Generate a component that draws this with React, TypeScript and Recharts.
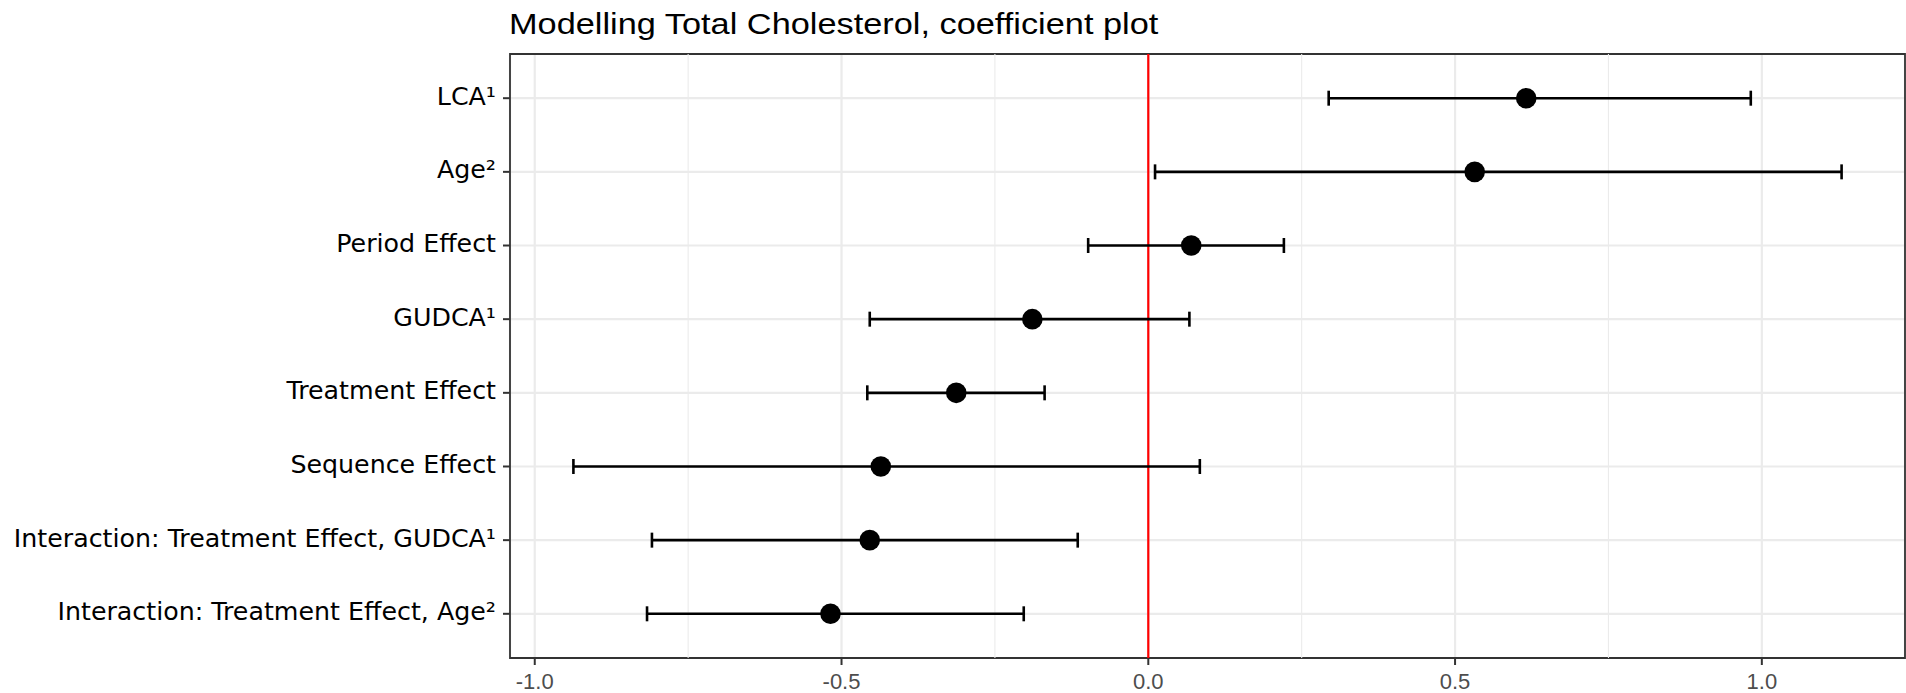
import {
  ScatterChart, Scatter, XAxis, YAxis, CartesianGrid, ErrorBar, ReferenceLine, ReferenceArea,
} from 'recharts'

/* ---------- data ---------- */

const TERMS = [
  'LCA¹',
  'Age²',
  'Period Effect',
  'GUDCA¹',
  'Treatment Effect',
  'Sequence Effect',
  'Interaction: Treatment Effect, GUDCA¹',
  'Interaction: Treatment Effect, Age²',
]
const ESTIMATE = [0.616, 0.532, 0.07, -0.189, -0.313, -0.436, -0.454, -0.518]
const LOWER = [0.294, 0.011, -0.098, -0.454, -0.458, -0.937, -0.809, -0.817]
const UPPER = [0.982, 1.13, 0.221, 0.067, -0.169, 0.084, -0.115, -0.203]

const X_TICKS = [-1, -0.5, 0, 0.5, 1]
const MINOR_X = [-0.75, -0.25, 0.25, 0.75]
const Y_TICKS = TERMS.map((_, i) => i)

/* ---------- scales (ggplot-style 5% expansion) ---------- */

const lo = Math.min(...LOWER)
const hi = Math.max(...UPPER)
const X_MIN = lo - (hi - lo) * 0.05
const X_MAX = hi + (hi - lo) * 0.05
const Y_MIN = -0.6
const Y_MAX = TERMS.length - 1 + 0.6

const rows = TERMS.map((term, i) => ({
  idx: i,
  term,
  est: ESTIMATE[i],
  err: [ESTIMATE[i] - LOWER[i], UPPER[i] - ESTIMATE[i]],
}))

/* ---------- ticks ---------- */

// eslint-disable-next-line @typescript-eslint/no-explicit-any
const TermTick = (props: any) => {
  const { x, y, payload } = props
  return (
    <text
      x={x}
      y={y}
      dy={6.5}
      textAnchor="end"
      fontFamily="'DejaVu Sans', Verdana, sans-serif"
      fontSize={25.3}
      fill="#000"
    >
      {TERMS[payload.value]}
    </text>
  )
}

/* ---------- component ---------- */

export default function App() {
  return (
    <div style={{ position: 'absolute', left: 0, top: 0, width: 1906, height: 693, background: '#fff' }}>
      <div
        style={{
          position: 'absolute',
          left: 509,
          top: 8.6,
          fontFamily: "'Liberation Sans', Arial, sans-serif",
          fontSize: 30,
          lineHeight: '30px',
          color: '#000',
          whiteSpace: 'nowrap',
          transform: 'scaleX(1.144)',
          transformOrigin: 'left top',
        }}
      >
        Modelling Total Cholesterol, coefficient plot
      </div>

      <ScatterChart width={1906} height={693} margin={{ top: 54, right: 1, bottom: 0, left: 0 }}>
        <CartesianGrid stroke="#EBEBEB" strokeWidth={2.2} />

        {MINOR_X.map((v) => (
          <ReferenceLine key={v} x={v} stroke="#EBEBEB" strokeWidth={1.1} />
        ))}

        <XAxis
          type="number"
          dataKey="est"
          domain={[X_MIN, X_MAX]}
          allowDataOverflow
          ticks={X_TICKS}
          tickFormatter={(v: number) => v.toFixed(1)}
          tick={{ fontSize: 22, fill: '#4D4D4D', fontFamily: "'Liberation Sans', Arial, sans-serif" }}
          tickLine={{ stroke: '#333333', strokeWidth: 2 }}
          tickSize={7}
          tickMargin={8}
          axisLine={false}
          height={35}
        />

        <YAxis
          type="number"
          dataKey="idx"
          domain={[Y_MIN, Y_MAX]}
          allowDataOverflow
          reversed
          ticks={Y_TICKS}
          interval={0}
          tick={<TermTick />}
          tickLine={{ stroke: '#333333', strokeWidth: 2 }}
          tickSize={7}
          tickMargin={7}
          axisLine={false}
          width={510}
        />

        <ReferenceLine x={0} stroke="#FF0000" strokeWidth={2.2} />

        <Scatter
          data={rows}
          isAnimationActive={false}
          // eslint-disable-next-line @typescript-eslint/no-explicit-any
          shape={(p: any) => <circle cx={p.cx} cy={p.cy} r={10.3} fill="#000" />}
        >
          <ErrorBar dataKey="err" direction="x" width={7.5} stroke="#000" strokeWidth={2.6} />
        </Scatter>

        <ReferenceArea
          x1={X_MIN}
          x2={X_MAX}
          y1={Y_MIN}
          y2={Y_MAX}
          fill="none"
          fillOpacity={0}
          stroke="#333333"
          strokeWidth={1.8}
        />
      </ScatterChart>
    </div>
  )
}
